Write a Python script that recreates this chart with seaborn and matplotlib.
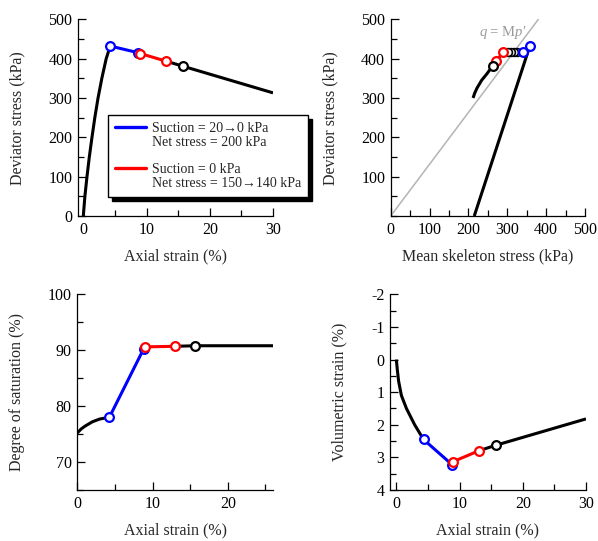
import numpy as np
import pandas as pd
import seaborn as sns
import matplotlib.pyplot as plt
from matplotlib.lines import Line2D
from matplotlib.ticker import MultipleLocator

sns.set_theme(style='ticks')
plt.rcParams['font.family'] = ['Liberation Serif', 'DejaVu Serif']
plt.rcParams['mathtext.fontset'] = 'custom'
plt.rcParams['mathtext.rm'] = 'Liberation Serif'
plt.rcParams['mathtext.it'] = 'Liberation Serif:italic'
plt.rcParams['axes.unicode_minus'] = False

BLUE = '#0000ff'
RED = '#ff0000'
BLACK = '#000000'

# --- deviator stress vs axial strain
qa_pre_x = [0, 0.25, 0.58, 0.95, 1.37, 1.82, 2.33, 2.93, 3.62, 4.26]
qa_pre_y = [0, 50, 100, 150, 200, 250, 300, 350, 400, 432]
qa_blue_x = [4.26, 8.7]
qa_blue_y = [432, 415]
qa_red_x = [9.0, 13.0]
qa_red_y = [413, 394]
qa_post_x = [13.0, 15.7, 30]
qa_post_y = [394, 381, 313]
qa_mark_x = [15.7]
qa_mark_y = [381]

# --- stress path q vs p'
sp_pre_p = [215, 358]
sp_pre_q = [0, 432]
sp_blue_p = [358, 340]
sp_blue_q = [432, 417]
sp_flat_p = [340, 290]
sp_flat_q = [417, 417]
sp_flat_mark_p = [326, 318, 310, 302]
sp_flat_mark_q = [417, 417, 417, 417]
sp_red_p = [290, 271]
sp_red_q = [416, 394]
sp_post_p = [271, 262, 248, 234, 222, 216, 212]
sp_post_q = [394, 381, 362, 345, 325, 312, 300]
sp_mark_p = [262]
sp_mark_q = [381]
cs_p = [0, 380]
cs_q = [0, 500]

# --- degree of saturation vs axial strain
sr_pre_x = [0, 0.5, 1, 2, 3, 4.26]
sr_pre_y = [75.2, 75.9, 76.4, 77.2, 77.7, 78.0]
sr_blue_x = [4.26, 8.8]
sr_blue_y = [78.0, 90.2]
sr_red_x = [9.0, 13.0]
sr_red_y = [90.6, 90.7]
sr_post_x = [13.0, 15.7, 26]
sr_post_y = [90.7, 90.8, 90.8]
sr_mark_x = [15.7]
sr_mark_y = [90.8]

# --- volumetric strain vs axial strain
ev_pre_x = [0, 0.15, 0.36, 0.8, 1.6, 2.9, 4.3]
ev_pre_y = [0, 0.3, 0.66, 1.1, 1.5, 2.0, 2.45]
ev_blue_x = [4.3, 8.8]
ev_blue_y = [2.45, 3.22]
ev_red_x = [9.0, 13.0]
ev_red_y = [3.13, 2.8]
ev_post_x = [13.0, 15.7, 30]
ev_post_y = [2.8, 2.63, 1.82]
ev_mark_x = [15.7]
ev_mark_y = [2.63]

LW = 2.2


def seg(ax, x, y, color):
    sns.lineplot(x=x, y=y, ax=ax, color=color, lw=LW, sort=False,
                 estimator=None, solid_capstyle='butt')


def marks(ax, x, y, color, ms=6.3, mew=1.6):
    ax.plot(x, y, 'o', ms=ms, mfc='white', mec=color, mew=mew,
            zorder=5, clip_on=False)


def style(ax, xmaj, xmin, ymaj, ymin):
    sns.despine(ax=ax)
    for s in ['left', 'bottom']:
        ax.spines[s].set_linewidth(0.9)
        ax.spines[s].set_color('black')
    ax.xaxis.set_major_locator(MultipleLocator(xmaj))
    ax.xaxis.set_minor_locator(MultipleLocator(xmin))
    ax.yaxis.set_major_locator(MultipleLocator(ymaj))
    ax.yaxis.set_minor_locator(MultipleLocator(ymin))
    ax.tick_params(which='major', direction='in', length=5.5, width=0.9,
                   labelsize=11.5, colors='black', pad=4)
    ax.tick_params(which='minor', direction='in', length=4.5, width=0.9,
                   colors='black')
    ax.set_facecolor('white')


fig = plt.figure(figsize=(5.98, 5.41), dpi=100)
W, H = 598, 541


def add(l, r, t, b):
    return fig.add_axes([l / W, 1 - b / H, (r - l) / W, (b - t) / H])


ax1 = add(78, 273, 19.3, 216)
ax2 = add(390.7, 585, 19.3, 216)
ax3 = add(77.3, 273, 294.3, 490)
ax4 = add(390, 586, 294.3, 490)

# panel 1
seg(ax1, qa_pre_x, qa_pre_y, BLACK)
seg(ax1, qa_blue_x, qa_blue_y, BLUE)
seg(ax1, qa_red_x, qa_red_y, RED)
seg(ax1, qa_post_x, qa_post_y, BLACK)
marks(ax1, qa_blue_x, qa_blue_y, BLUE)
marks(ax1, qa_red_x, qa_red_y, RED)
marks(ax1, qa_mark_x, qa_mark_y, BLACK)
ax1.set_xlim(-0.84, 30)
ax1.set_ylim(0, 500)
style(ax1, 10, 5, 100, 50)
ax1.set_xlabel('Axial strain (%)', fontsize=11.5)
ax1.set_ylabel('Deviator stress (kPa)', fontsize=11.5)
ax1.xaxis.set_label_coords(0.5, -0.165)
ax1.yaxis.set_label_coords(-0.272, 0.5)

# panel 2
sns.lineplot(x=cs_p, y=cs_q, ax=ax2, color='#b4b4b4', lw=1.1, sort=False,
             estimator=None)
seg(ax2, sp_pre_p, sp_pre_q, BLACK)
seg(ax2, sp_flat_p, sp_flat_q, BLACK)
seg(ax2, sp_blue_p, sp_blue_q, BLUE)
seg(ax2, sp_red_p, sp_red_q, RED)
seg(ax2, sp_post_p, sp_post_q, BLACK)
marks(ax2, sp_flat_mark_p, sp_flat_mark_q, BLACK, ms=5.6, mew=1.2)
marks(ax2, sp_blue_p, sp_blue_q, BLUE)
marks(ax2, sp_red_p, sp_red_q, RED)
marks(ax2, sp_mark_p, sp_mark_q, BLACK)
ax2.text(349, 466, r'$\it{q}$ = M$\it{p}$′', color='#9a9a9a', fontsize=10.5,
         ha='right', va='center')
ax2.set_xlim(0, 500)
ax2.set_ylim(0, 500)
style(ax2, 100, 50, 100, 50)
ax2.set_yticks([100, 200, 300, 400, 500])
ax2.set_xlabel('Mean skeleton stress (kPa)', fontsize=11.5)
ax2.set_ylabel('Deviator stress (kPa)', fontsize=11.5)
ax2.xaxis.set_label_coords(0.5, -0.165)
ax2.yaxis.set_label_coords(-0.271, 0.5)

# panel 3
seg(ax3, sr_pre_x, sr_pre_y, BLACK)
seg(ax3, sr_blue_x, sr_blue_y, BLUE)
seg(ax3, sr_red_x, sr_red_y, RED)
seg(ax3, sr_post_x, sr_post_y, BLACK)
marks(ax3, sr_blue_x, sr_blue_y, BLUE)
marks(ax3, sr_red_x, sr_red_y, RED)
marks(ax3, sr_mark_x, sr_mark_y, BLACK)
ax3.set_xlim(0, 26)
ax3.set_ylim(65, 100)
style(ax3, 10, 5, 10, 5)
ax3.set_xlabel('Axial strain (%)', fontsize=11.5)
ax3.set_ylabel('Degree of saturation (%)', fontsize=11.5)
ax3.xaxis.set_label_coords(0.5, -0.168)
ax3.yaxis.set_label_coords(-0.267, 0.5)

# panel 4
seg(ax4, ev_pre_x, ev_pre_y, BLACK)
seg(ax4, ev_blue_x, ev_blue_y, BLUE)
seg(ax4, ev_red_x, ev_red_y, RED)
seg(ax4, ev_post_x, ev_post_y, BLACK)
marks(ax4, ev_blue_x, ev_blue_y, BLUE)
marks(ax4, ev_red_x, ev_red_y, RED)
marks(ax4, ev_mark_x, ev_mark_y, BLACK)
ax4.set_xlim(-1, 30)
ax4.set_ylim(4, -2)
style(ax4, 10, 5, 1, 0.5)
ax4.set_xlabel('Axial strain (%)', fontsize=11.5)
ax4.set_ylabel('Volumetric strain (%)', fontsize=11.5)
ax4.xaxis.set_label_coords(0.5, -0.168)
ax4.yaxis.set_label_coords(-0.219, 0.5)

# legend
handles = [Line2D([], [], color=BLUE, lw=2.4),
           Line2D([], [], color='none'),
           Line2D([], [], color='none'),
           Line2D([], [], color=RED, lw=2.4),
           Line2D([], [], color='none')]
labels = ['Suction = 20→0 kPa', 'Net stress = 200 kPa', ' ',
          'Suction = 0 kPa', 'Net stress = 150→140 kPa']
leg = fig.legend(handles, labels, loc='upper left',
                 bbox_to_anchor=(108 / W, 1 - 115 / H), fontsize=10,
                 frameon=True, fancybox=False, edgecolor='black',
                 framealpha=1, handlelength=2.2, handletextpad=0.45,
                 labelspacing=0.05, borderpad=0.5, borderaxespad=0,
                 shadow={'ox': 3, 'oy': -3, 'color': 'black', 'alpha': 1})
leg.get_frame().set_linewidth(1.0)

fig.savefig('out.png', dpi=100)
